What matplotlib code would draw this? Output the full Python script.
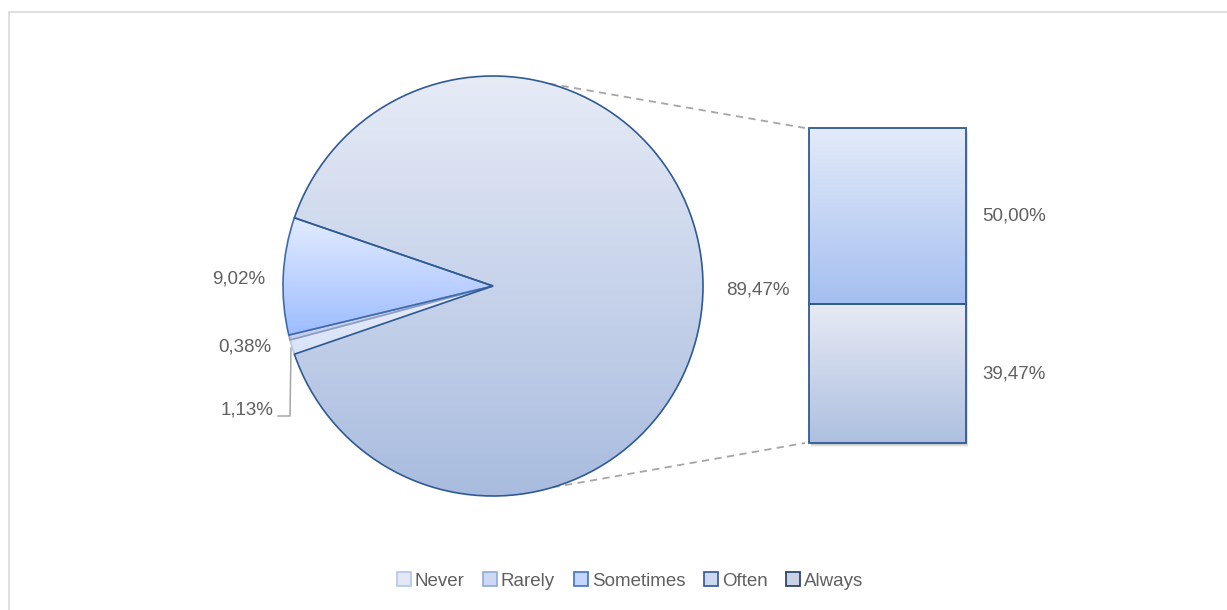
import numpy as np
import matplotlib
matplotlib.use("Agg")
import matplotlib.pyplot as plt
from matplotlib.patches import Patch, Rectangle
from matplotlib.colors import to_rgb

# frequency answers, pie part and the split-out "Often/Always" part
pie_labels = ["Never", "Rarely", "Sometimes", "Other"]
pie_values = [1.13, 0.38, 9.02, 89.47]
bar_labels = ["Always", "Often"]          # stacked from the bottom up
bar_values = [39.47, 50.00]
legend_labels = ["Never", "Rarely", "Sometimes", "Often", "Always"]

plt.rcParams['font.family'] = ['Liberation Sans', 'DejaVu Sans']
TXT = '#606060'
EDGE = '#2f5a93'


def fmt(v):
    return f"{v:.2f}".replace('.', ',') + '%'


def gradient(ax, clip, c_top, c_bot, x0, x1, y0, y1, z=1):
    t = np.linspace(0, 1, 256)[:, None]
    top, bot = np.array(to_rgb(c_top)), np.array(to_rgb(c_bot))
    img = bot + (top - bot) * t
    im = ax.imshow(img[:, None, :].repeat(2, axis=1), extent=(x0, x1, y0, y1),
                   origin='lower', aspect='auto', interpolation='bilinear', zorder=z)
    im.set_clip_path(clip)


fig = plt.figure(figsize=(12.27, 6.10), dpi=100)
ax = fig.add_axes([0, 0, 1, 1])

# pie with the "Other" slice centred on the right, small slices on the left
cx, cy, r = 493, 324, 210
start = 180 + (100 - pie_values[-1]) * 3.6 / 2
wedges, _ = ax.pie(pie_values, startangle=start, counterclock=False,
                   center=(cx, cy), radius=r, frame=True)

fills = [('#e6ecf9', '#d9e3f8'), ('#d2dcf2', '#c2cfee'),
         ('#e3ecff', '#9dbcff'), ('#e6ebf6', '#a9bcdf')]
edges = ['#b9c7e6', '#8d9cc0', '#3d6bb0', EDGE]
for i, w in enumerate(wedges):
    w.set_facecolor('none')
    w.set_edgecolor(edges[i])
    w.set_linewidth(1.2)
    w.set_zorder(3 + i)
    b = w.get_path().get_extents(w.get_transform() - ax.transData)
    if i == 3:
        y0, y1 = cy - r, cy + r
    else:
        y0, y1 = b.y0, b.y1
    gradient(ax, w, fills[i][0], fills[i][1], b.x0, b.x1, y0, y1, z=1 + i * 0.1)

# stacked bar for the split-out part
bx, bw = 887.5, 157
bar_bottom, bar_h = 167, 315
scale = bar_h / sum(bar_values)
bar_fills = [('#e6eaf4', '#aebfe0'), ('#e4ebf9', '#a4bff0')]
bottom = bar_bottom
for k, v in enumerate(bar_values):
    h = v * scale
    # soft drop shadow
    for d, a in [(4, 0.05), (3, 0.07), (2, 0.09)]:
        ax.add_patch(Rectangle((bx - bw / 2 + d / 2, bottom - d), bw, h,
                               facecolor='black', alpha=a, linewidth=0, zorder=1))
    rect = ax.bar(bx, h, bw, bottom=bottom, facecolor='none', edgecolor=EDGE,
                  linewidth=1.3, zorder=5)[0]
    gradient(ax, rect, bar_fills[k][0], bar_fills[k][1],
             bx - bw / 2, bx + bw / 2, bottom, bottom + h, z=2)
    ax.text(bx + bw / 2 + 16, bottom + h / 2, fmt(v), ha='left', va='center',
            fontsize=13.5, color=TXT)
    bottom += h

# connector lines from pie to bar
for ang, yb in [(74.5, bar_bottom + bar_h), (-73.5, bar_bottom)]:
    px = cx + r * np.cos(np.radians(ang))
    py = cy + r * np.sin(np.radians(ang))
    ax.plot([px, bx - bw / 2 - 4], [py, yb], ls=(0, (4, 3)), color='#a6a6a6',
            lw=1.3, zorder=2)

# pie labels
ax.text(790, 320, fmt(pie_values[3]), ha='right', va='center', fontsize=13.5, color=TXT)
ax.text(265, 331, fmt(pie_values[2]), ha='right', va='center', fontsize=13.5, color=TXT)
ax.text(271, 263, fmt(pie_values[1]), ha='right', va='center', fontsize=13.5, color=TXT)
ax.text(274, 200, fmt(pie_values[0]), ha='right', va='center', fontsize=13.5, color=TXT)
ax.plot([278, 290, 291], [194, 194, 262], color='#a6a6a6', lw=1.1, zorder=2)

# chart area border
ax.plot([9, 9, 1227], [0, 598, 598], color='#d9d9d9', lw=1.2, zorder=0)

ax.set_xlim(0, 1227)
ax.set_ylim(0, 610)
ax.set_aspect('equal')
ax.set_axis_off()

leg_face = ['#e2e8f6', '#cdd9f2', '#c4d6fb', '#cbd8ef', '#c9d1e4']
leg_edge = ['#b4c7e7', '#8faadc', '#4472c4', '#2f5597', '#1f3864']
handles = [Patch(facecolor=f, edgecolor=e, linewidth=1.2) for f, e in zip(leg_face, leg_edge)]
fig.legend(handles, legend_labels, loc='center', bbox_to_anchor=(630 / 1227, 1 - 581 / 610),
           ncol=5, frameon=False, fontsize=13.5, labelcolor=TXT, handlelength=0.75,
           handleheight=0.75, handletextpad=0.2, columnspacing=1.0)

fig.savefig('out.png', dpi=100, facecolor='white')
